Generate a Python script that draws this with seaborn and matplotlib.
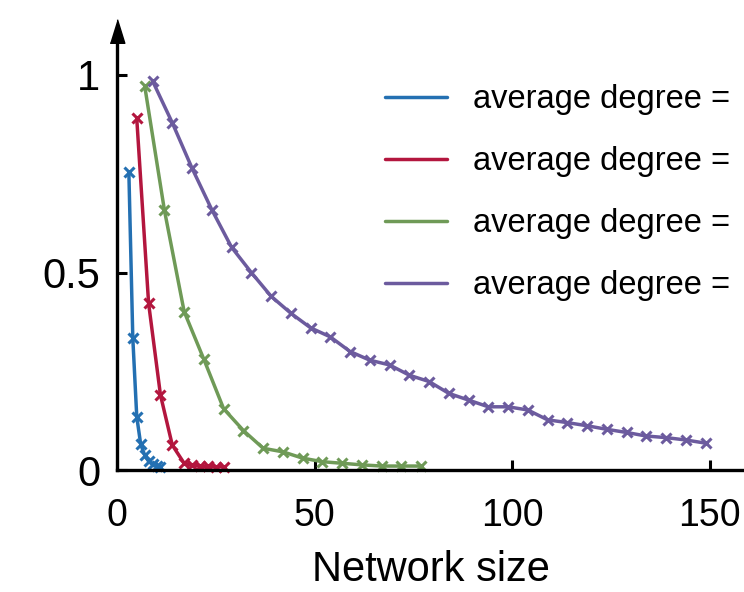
import matplotlib
matplotlib.use("Agg")
import matplotlib.pyplot as plt
from matplotlib.lines import Line2D
import seaborn as sns
import pandas as pd

# ---- data ----
series_names = ["series 1", "series 2", "series 3", "series 4"]
legend_labels = ["average degree =", "average degree =", "average degree =", "average degree ="]

blue_x = [3, 4, 5, 6, 7, 8, 9, 10, 11]
blue_y = [0.755, 0.334, 0.135, 0.065, 0.038, 0.022, 0.014, 0.010, 0.008]

red_x = [5, 8, 11, 14, 17, 19, 21, 23, 25, 27]
red_y = [0.89, 0.422, 0.19, 0.063, 0.017, 0.012, 0.010, 0.009, 0.008, 0.008]

green_x = [7, 12, 17, 22, 27, 32, 37, 42, 47, 52, 57, 62, 67, 72, 77]
green_y = [0.973, 0.658, 0.401, 0.28, 0.155, 0.10, 0.055, 0.046, 0.03, 0.021,
           0.017, 0.013, 0.010, 0.010, 0.010]

purple_x = [9, 14, 19, 24, 29, 34, 39, 44, 49, 54, 59, 64, 69, 74, 79, 84, 89,
            94, 99, 104, 109, 114, 119, 124, 129, 134, 139, 144, 149]
purple_y = [0.985, 0.879, 0.764, 0.659, 0.564, 0.50, 0.44, 0.397, 0.36, 0.337,
            0.30, 0.278, 0.266, 0.24, 0.224, 0.194, 0.177, 0.16, 0.16, 0.152,
            0.127, 0.12, 0.112, 0.103, 0.095, 0.086, 0.082, 0.076, 0.068]

colors = ["#2470b2", "#b3163e", "#6f9a57", "#6c5b9e"]

x_ticks = [0, 50, 100, 150]
x_tick_labels = ["0", "50", "100", "150"]
y_ticks = [0, 0.5, 1]
y_tick_labels = ["0", "0.5", "1"]

xs = [blue_x, red_x, green_x, purple_x]
ys = [blue_y, red_y, green_y, purple_y]
rows = []
for name, xv, yv in zip(series_names, xs, ys):
    for a, b in zip(xv, yv):
        rows.append({"size": a, "value": b, "series": name})
df = pd.DataFrame(rows)

# ---- figure ----
sns.set_style("ticks")
plt.rcParams["font.family"] = ["Liberation Sans", "DejaVu Sans"]
plt.rcParams["text.color"] = "black"
plt.rcParams["axes.labelcolor"] = "black"

W, H = 744, 592
fig = plt.figure(figsize=(W / 100, H / 100), dpi=100)
x0_px, x1_px = 117, 744
y0_px, ytop_px = 470, 31
ax = fig.add_axes([x0_px / W, (H - y0_px) / H, (x1_px - x0_px) / W, (y0_px - ytop_px) / H])

sns.lineplot(data=df, x="size", y="value", hue="series", hue_order=series_names,
             palette=colors, marker="x", markersize=6.5, markeredgewidth=2.2,
             linewidth=2.5, legend=False, ax=ax, clip_on=False)
for ln in ax.lines:
    ln.set_markeredgecolor(ln.get_color())
    ln.set_markerfacecolor(ln.get_color())
    ln.set_linestyle("-")
    ln.set_dashes([])

ax.set_xlim(0, (x1_px - x0_px) / 3.95)
ax.set_ylim(0, (y0_px - ytop_px) / 395)

for side in ["top", "right"]:
    ax.spines[side].set_visible(False)
for side in ["left", "bottom"]:
    ax.spines[side].set_linewidth(2.4)
    ax.spines[side].set_color("black")

ax.set_xticks(x_ticks)
ax.set_xticklabels(x_tick_labels)
ax.set_yticks(y_ticks)
ax.set_yticklabels(y_tick_labels)
ax.tick_params(axis="both", direction="in", length=7, width=2.2, labelsize=27,
               colors="black")
ax.tick_params(axis="x", pad=20)
ax.tick_params(axis="y", pad=12, labelsize=30)

ax.set_xlabel("Network size", fontsize=30, labelpad=12)
ax.set_ylabel("")

# arrow head on y axis
ax.plot([0], [1], transform=ax.transAxes, marker=[(-0.62, -1), (0.62, -1), (0, 1)],
        markersize=17, color="black", clip_on=False)

handles = [Line2D([0], [0], color=c, lw=2.5) for c in colors]
leg = ax.legend(handles, legend_labels, loc="upper left",
                bbox_to_anchor=(385 / W, (H - 84) / H), bbox_transform=fig.transFigure,
                frameon=False, fontsize=23.5, handlelength=1.9, handletextpad=0.8,
                labelspacing=0.95, borderaxespad=0, borderpad=0)
for t in leg.get_texts():
    t.set_color("black")

fig.savefig("out.png", dpi=100)
